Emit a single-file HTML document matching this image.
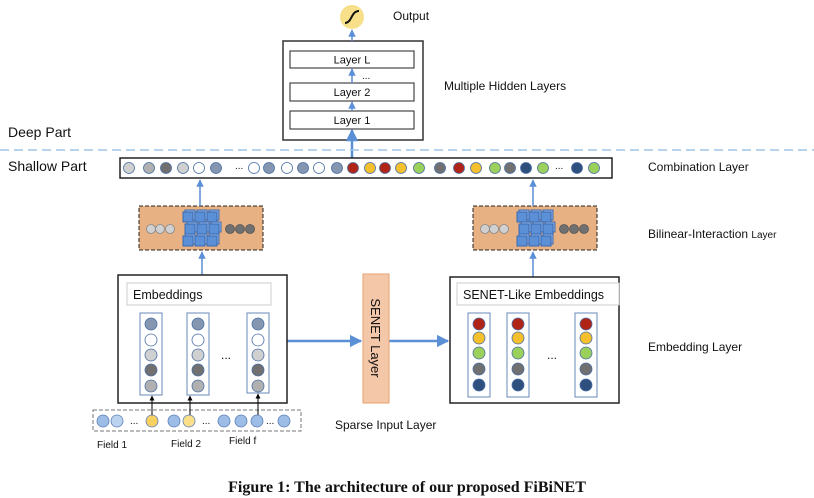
<!DOCTYPE html>
<html><head><meta charset="utf-8"><style>
html,body{margin:0;padding:0;background:#fff}
svg{display:block}
text{font-family:"Liberation Sans",sans-serif;fill:#111}
</style></head><body>
<svg id="s" width="814" height="498" viewBox="0 0 814 498" xmlns="http://www.w3.org/2000/svg">
<defs>
<marker id="ah" viewBox="0 0 10 10" refX="9" refY="5" markerWidth="5" markerHeight="5" orient="auto"><path d="M0,0 L10,5 L0,10z" fill="#5b8fd6"/></marker>
<marker id="ak" viewBox="0 0 10 10" refX="9" refY="5" markerWidth="5" markerHeight="5" orient="auto"><path d="M0,0 L10,5 L0,10z" fill="#000"/></marker>
</defs>
<circle cx="352" cy="17" r="12" fill="#f8e08a"/>
<path d="M345,23 C352,23 351,11 359,11" stroke="#111" stroke-width="2" fill="none"/>
<text x="393" y="20" font-size="12">Output</text>
<rect x="283" y="41" width="140" height="99" fill="#fff" stroke="#333" stroke-width="1.5"/>
<rect x="290" y="51" width="124" height="17" fill="#fff" stroke="#222"/>
<text x="352" y="63.5" font-size="11" text-anchor="middle">Layer L</text>
<text x="362" y="79" font-size="10">...</text>
<rect x="290" y="83" width="124" height="18" fill="#fff" stroke="#222"/>
<text x="352" y="96" font-size="11" text-anchor="middle">Layer 2</text>
<rect x="290" y="111" width="124" height="18" fill="#fff" stroke="#222"/>
<text x="352" y="124" font-size="11" text-anchor="middle">Layer 1</text>
<g stroke="#5b8fd6" stroke-width="1.5" marker-end="url(#ah)">
<line x1="352" y1="41" x2="352" y2="30"/>
<line x1="352" y1="83" x2="352" y2="69"/>
<line x1="352" y1="111" x2="352" y2="102"/>
<line x1="352" y1="158" x2="352" y2="130" stroke-width="2.5"/>
</g>
<text x="444" y="90" font-size="12">Multiple Hidden Layers</text>
<line x1="0" y1="150" x2="814" y2="150" stroke="#9dc3e6" stroke-width="1.5" stroke-dasharray="9,5"/>
<text x="8" y="137" font-size="14">Deep Part</text>
<text x="8" y="171" font-size="14">Shallow Part</text>
<rect x="120" y="158" width="492" height="20" fill="#fff" stroke="#222" stroke-width="1.5"/>
<g id="comb"></g>
<text x="648" y="171" font-size="12">Combination Layer</text>
<rect x="139" y="206" width="124" height="44" fill="#e8b184" stroke="#222" stroke-dasharray="4,2"/>
<rect x="473" y="206" width="124" height="44" fill="#e8b184" stroke="#222" stroke-dasharray="4,2"/>
<g id="bil"></g>
<text x="648" y="238" font-size="12">Bilinear-Interaction <tspan font-size="10">Layer</tspan></text>
<g stroke="#5b8fd6" stroke-width="1.5" marker-end="url(#ah)">
<line x1="200" y1="206" x2="200" y2="180"/>
<line x1="533" y1="206" x2="533" y2="180"/>
<line x1="202" y1="275" x2="202" y2="252"/>
<line x1="533" y1="277" x2="533" y2="252"/>
<line x1="287" y1="341" x2="361" y2="341" stroke-width="2.5"/>
<line x1="389" y1="341" x2="448" y2="341" stroke-width="2.5"/>
</g>
<rect x="118" y="275" width="169" height="128" fill="#fff" stroke="#222" stroke-width="1.5"/>
<rect x="127" y="283" width="144" height="22" fill="#fff" stroke="#ccc"/>
<text x="133" y="299" font-size="12.5">Embeddings</text>
<text x="221" y="359" font-size="12">...</text>
<rect x="450" y="277" width="169" height="126" fill="#fff" stroke="#222" stroke-width="1.5"/>
<rect x="457" y="283" width="162" height="22" fill="#fff" stroke="#ccc"/>
<text x="463" y="299" font-size="12.5">SENET-Like Embeddings</text>
<text x="547" y="359" font-size="12">...</text>
<rect x="363" y="274" width="26" height="129" fill="#f4c7a8" stroke="#e8a070"/>
<text transform="translate(371,338) rotate(90)" font-size="13" text-anchor="middle">SENET Layer</text>
<g id="cols"></g>
<rect x="93" y="410" width="208" height="21" fill="#fff" stroke="#777" stroke-dasharray="4,2"/>
<g id="sp"></g>
<text x="97" y="448" font-size="10">Field 1</text>
<text x="171" y="447" font-size="10">Field 2</text>
<text x="229" y="444" font-size="10">Field f</text>
<text x="335" y="429" font-size="12">Sparse Input Layer</text>
<text x="648" y="351" font-size="12">Embedding Layer</text>
<text x="407" y="492" font-size="16" font-weight="bold" text-anchor="middle" style="font-family:'Liberation Serif',serif">Figure 1: The architecture of our proposed FiBiNET</text>
</svg>
<script>
const NS="http://www.w3.org/2000/svg";
function c(g,x,y,r,f,st){const e=document.createElementNS(NS,"circle");e.setAttribute("cx",x);e.setAttribute("cy",y);e.setAttribute("r",r);e.setAttribute("fill",f);e.setAttribute("stroke",st||"#4a6fa5");e.setAttribute("stroke-width","0.8");document.getElementById(g).appendChild(e);}
function t(g,x,y,s,fs){const e=document.createElementNS(NS,"text");e.setAttribute("x",x);e.setAttribute("y",y);e.setAttribute("font-size",fs||10);e.textContent=s;document.getElementById(g).appendChild(e);}
function r(g,x,y,w,h,f,st){const e=document.createElementNS(NS,"rect");e.setAttribute("x",x);e.setAttribute("y",y);e.setAttribute("width",w);e.setAttribute("height",h);e.setAttribute("fill",f);e.setAttribute("stroke",st);document.getElementById(g).appendChild(e);}
const L="#d0d0d0",M="#b0b0b0",D="#707070",W="#fff",B="#8496b0",R="#b02418",Y="#f5c02c",G="#9bd05a",N="#2f4f7f";
const comb=[[129,L],[149,M],[166,D],[183,L],[199,W],[216,B],[254,W],[269,B],[287,W],[303,B],[319,W],[337,B],[353,R],[370,Y],[385,R],[401,Y],[419,G],[440,D],[459,R],[476,Y],[495,G],[510,D],[526,N],[543,G],[577,N],[594,G]];
comb.forEach(a=>c("comb",a[0],168,5.5,a[1]));
t("comb",235,169,"...",10);t("comb",555,169,"...",10);
[139,473].forEach(x0=>{const d=x0-139;
[151,160,170].forEach(x=>c("bil",x+d,229,4.5,L,"#888"));
[230,240,250].forEach(x=>c("bil",x+d,229,4.5,D,"#555"));
for(let i=0;i<3;i++)for(let j=0;j<3;j++){const x=183+d+j*12+(i==1?2:0),y=212+i*12;
r("bil",x+2,y-2,10,10,"#8fb4e8","#3a6ab0");r("bil",x,y,10,10,"#5b8fd6","#3a6ab0");}
});
const lc=[B,W,L,D,M],rc=[R,Y,G,D,N];
[[140,313,82],[187,313,82],[247,313,80]].forEach(a=>{r("cols",a[0],a[1],22,a[2],"#fff","#6a88b8");[324,340,355,370,386].forEach((y,i)=>c("cols",a[0]+11,y,6,lc[i],"#4a6fa5"));});
[[468,313,84],[507,313,84],[575,313,84]].forEach(a=>{r("cols",a[0],a[1],22,a[2],"#fff","#6a88b8");[324,338,353,369,385].forEach((y,i)=>c("cols",a[0]+11,y,6,rc[i],"#4a6fa5"));});
const sp=[[103,"#9dbde6"],[117,"#bcd3f0"],[152,"#f6d060"],[174,"#9dbde6"],[189,"#fbe08a"],[224,"#9dbde6"],[241,"#9dbde6"],[257,"#9dbde6"],[284,"#9dbde6"]];
sp.forEach(a=>c("sp",a[0],421,6,a[1],"#5b7fb8"));
t("sp",130,424,"...",10);t("sp",202,424,"...",10);t("sp",266,424,"...",10);
[[152,396],[190,396],[258,394]].forEach(a=>{const e=document.createElementNS(NS,"line");e.setAttribute("x1",a[0]);e.setAttribute("y1",415);e.setAttribute("x2",a[0]);e.setAttribute("y2",a[1]);e.setAttribute("stroke","#000");e.setAttribute("marker-end","url(#ak)");document.getElementById("sp").appendChild(e);});
</script>
</body></html>
